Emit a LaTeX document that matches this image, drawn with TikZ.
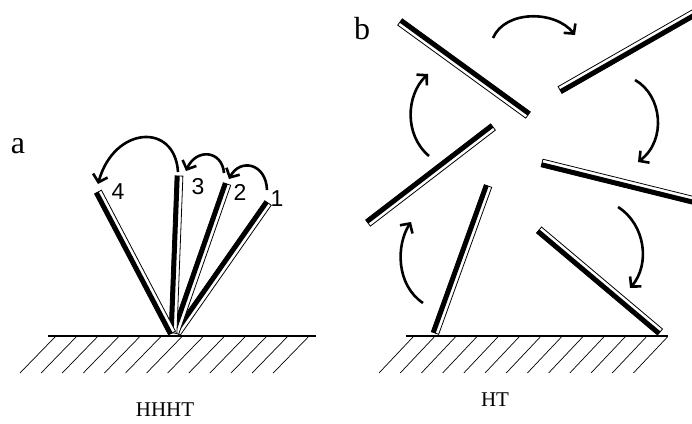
\documentclass[tikz,border=0pt]{standalone}
\usepackage{fontspec}
\setmainfont{Liberation Serif}
\newfontfamily\digitfont{Liberation Sans}
\usepackage{tikz}
\usetikzlibrary{arrows.meta,calc}

% a rod: white strip with a black strip on one side (#3 = 90 or -90)
\newcommand{\rodbar}[3]{%
  \filldraw[fill=white, line width=0.8pt]
    ($(#1)!3.9pt!90:(#2)$) -- ($(#1)!3.9pt!-90:(#2)$) --
    ($(#2)!3.9pt!90:(#1)$) -- ($(#2)!3.9pt!-90:(#1)$) -- cycle;
  \draw[line width=4.6pt] ($(#1)!1.6pt!#3:(#2)$) -- ($(#2)!-1.6pt!#3:(#1)$);
}

\begin{document}
\begin{tikzpicture}[x=1pt, y=-1pt,
    ground/.style={line width=2.2pt},
    hatch/.style={line width=0.7pt},
    turn/.style={line width=2.6pt, -{Straight Barb[length=7pt, width=15pt, line width=2.6pt]}},
    num/.style={font=\digitfont\fontsize{23}{23}\selectfont},
    panel/.style={font=\fontsize{32}{32}\selectfont},
    caption/.style={font=\fontsize{21}{21}\selectfont}]

  \useasboundingbox (0,0) rectangle (692,423);
  \clip (0,0) rectangle (692,423);

  % Panel a: ground
  \draw[ground] (48,336) -- (316,336);
  \foreach \x in {0,...,12}
    \draw[hatch] ({55+21.1*\x},337) -- ({20+21.1*\x},373);

  % Panel a: rods
  \coordinate (r4b) at (172,333); \coordinate (r4t) at (98,192);
  \coordinate (r3b) at (173,333); \coordinate (r3t) at (179,176);
  \coordinate (r2b) at (175,333); \coordinate (r2t) at (227,184);
  \coordinate (r1b) at (177,333); \coordinate (r1t) at (268,203);
  \rodbar{r1b}{r1t}{90}
  \rodbar{r2b}{r2t}{90}
  \rodbar{r3b}{r3t}{90}
  \rodbar{r4b}{r4t}{90}

  \node[num] (n4) at (118,192) {4};
  \node[num] (n3) at (198,187) {3};
  \node[num] (n2) at (240,192) {2};
  \node[num] (n1) at (277,199) {1};

  % Panel a: moves
  \draw[turn] (267,190) .. controls (266,163) and (240,158) .. (229,179);
  \draw[turn] (224,173) .. controls (222,150) and (196,148) .. (186,171);
  \draw[turn] (178,172) .. controls (175,122) and (114,126) .. (98,184);

  \node[panel] (la) at (18,146) {a};
  \node[caption] (ca) at (165,410) {HHHT};

  % Panel b: ground
  \draw[ground] (406,336) -- (668,336);
  \foreach \x in {0,...,12}
    \draw[hatch] ({413+21.2*\x},337) -- ({379+21.2*\x},373);

  % Panel b: rods
  \coordinate (s1a) at (400,22);  \coordinate (s1b) at (528,115);
  \coordinate (s2a) at (560,90);  \coordinate (s2b) at (712,3);
  \coordinate (s3a) at (542,163); \coordinate (s3b) at (712,205);
  \coordinate (s4a) at (539,230); \coordinate (s4b) at (660,332);
  \coordinate (s5a) at (435,333); \coordinate (s5b) at (488,186);
  \coordinate (s6a) at (368,223); \coordinate (s6b) at (493,127);
  \rodbar{s1a}{s1b}{90}
  \rodbar{s2a}{s2b}{-90}
  \rodbar{s3a}{s3b}{-90}
  \rodbar{s4a}{s4b}{-90}
  \rodbar{s5a}{s5b}{90}
  \rodbar{s6a}{s6b}{90}

  % Panel b: moves
  \draw[turn] (493,38) .. controls (505,10) and (555,10) .. (575,35);
  \draw[turn] (635,80) .. controls (662,95) and (667,140) .. (638,162);
  \draw[turn] (618,207) .. controls (646,225) and (650,265) .. (630,288);
  \draw[turn] (423,303) .. controls (396,285) and (396,245) .. (411,222);
  \draw[turn] (429,156) .. controls (404,135) and (406,95) .. (428,74);

  \node[panel] (lb) at (362,29) {b};
  \node[caption] (cb) at (495,400) {HT};

\end{tikzpicture}
\end{document}
